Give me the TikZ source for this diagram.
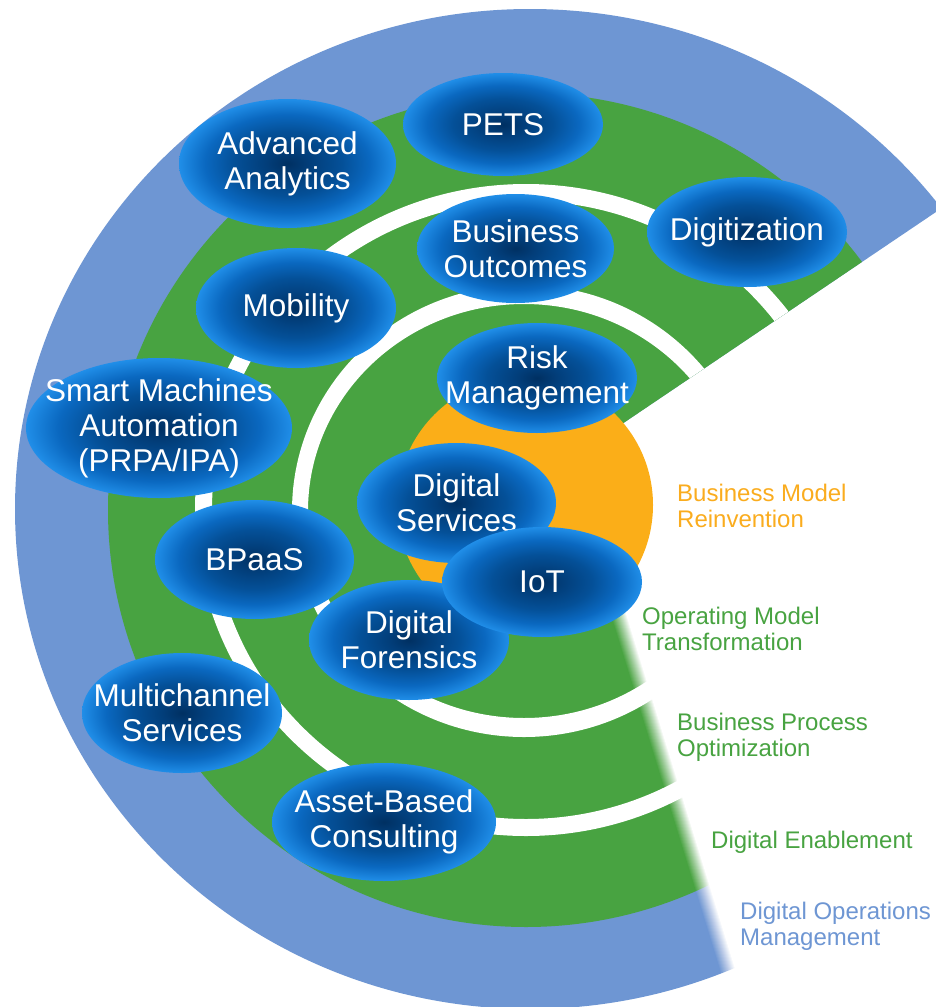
\documentclass[tikz,border=0pt]{standalone}
\usepackage{fontspec}
\setmainfont{Liberation Sans}
\usetikzlibrary{shapes.geometric}

\definecolor{ringblue}{RGB}{110,150,211}
\definecolor{ringgreen}{RGB}{72,163,65}
\definecolor{coreorange}{RGB}{251,174,24}
\definecolor{lblorange}{RGB}{250,172,30}
\definecolor{bubdark}{RGB}{0,48,98}
\definecolor{bubdeep}{RGB}{2,62,122}
\definecolor{bubmid}{RGB}{4,80,152}
\definecolor{bubbright}{RGB}{10,104,192}
\definecolor{bubedge}{RGB}{32,142,232}

% the central 50bp square of a shading covers the shaded path
\pgfdeclareradialshading{bubbleshade}{\pgfpoint{0bp}{0bp}}{%
  color(0bp)=(bubdark); color(5bp)=(bubdeep); color(12.5bp)=(bubmid);
  color(19bp)=(bubbright); color(25bp)=(bubedge); color(50bp)=(bubedge)}

\tikzset{
  bubblenode/.style={ellipse, shade, shading=bubbleshade, text=white,
    inner sep=-25pt, align=center, font=\fontsize{31.5}{35}\selectfont},
  bsize/.style 2 args={minimum width=#1, minimum height=#2},
  % multi-line labels sit on the baseline of their last line
  layerlabel/.style={anchor=base west, align=left, inner sep=0pt,
    font=\fontsize{24}{26}\selectfont},
}

\begin{document}
\begin{tikzpicture}[x=1pt, y=-1pt]
\useasboundingbox (0,0) rectangle (936,1007);

% concentric layers, cut open towards the right
\begin{scope}
  \clip (577.8,453.8) -- (1000,168.8) -- (1000,-50) -- (-50,-50)
        -- (-50,1100) -- (776.2,1100) -- cycle;
  \fill[ringblue]  (530,509) ellipse [x radius=515pt, y radius=500pt];
  \fill[ringgreen] (526,510) ellipse [x radius=418pt, y radius=417pt];
  \fill[white, even odd rule]
    (526,510) ellipse [x radius=331pt, y radius=326pt]
    (526,510) ellipse [x radius=314pt, y radius=309pt];
  \fill[white, even odd rule]
    (524,511) ellipse [x radius=232pt, y radius=226pt]
    (524,511) ellipse [x radius=216pt, y radius=207pt];
\end{scope}

% soft lower edge of the opening
\foreach \n in {1,...,16}{
  \pgfmathsetmacro\k{\n-9}
  \pgfmathsetmacro\op{1/(17-\n)}
  \fill[white, opacity=\op] ({602.4+\k},560) -- ({768.2+\k},1100)
    -- (1000,1100) -- (1000,560) -- cycle;
}

% core
\fill[coreorange] (525,505) circle [radius=128pt];

% topic bubbles
\node[bubblenode, bsize={217pt}{129pt}] (analytics)    at (287.5,163.5) {Advanced\\Analytics};
\node[bubblenode, bsize={200pt}{103pt}] (pets)         at (503,124.5)   {PETS};
\node[bubblenode, bsize={197pt}{109pt}] (outcomes)     at (515.5,248.5) {Business\\Outcomes};
\node[bubblenode, bsize={200pt}{110pt}] (digitization) at (747,232)     {Digitization};
\node[bubblenode, bsize={200pt}{120pt}] (mobility)     at (296,308)     {Mobility};
\node[bubblenode, bsize={200pt}{110pt}] (risk)         at (537,378)     {Risk\\Management};
\node[bubblenode, bsize={266pt}{140pt}] (smart)        at (159,428)     {Smart Machines\\Automation\\(PRPA/IPA)};
\node[bubblenode, bsize={199pt}{120pt}] (dservices)    at (456.5,503)   {Digital\\Services};
\node[bubblenode, bsize={199pt}{119pt}] (bpaas)        at (254.5,559.5) {BPaaS};
\node[bubblenode, bsize={200pt}{120pt}] (forensics)    at (409,640)     {Digital\\Forensics};
\node[bubblenode, bsize={200pt}{110pt}] (iot)          at (542,582)     {IoT};
\node[bubblenode, bsize={200pt}{120pt}] (multichannel) at (182,713)     {Multichannel\\Services};
\node[bubblenode, bsize={224pt}{118pt}] (asset)        at (384,822)     {Asset-Based\\Consulting};

% layer names
\node[layerlabel, text=lblorange] (lbl-bmr) at (677,527) {Business Model\\Reinvention};
\node[layerlabel, text=ringgreen] (lbl-omt) at (642,650) {Operating Model\\Transformation};
\node[layerlabel, text=ringgreen] (lbl-bpo) at (677,756) {Business Process\\Optimization};
\node[layerlabel, text=ringgreen] (lbl-de)  at (711,848) {Digital Enablement};
\node[layerlabel, text=ringblue]  (lbl-dom) at (740,945) {Digital Operations\\Management};
\end{tikzpicture}
\end{document}
